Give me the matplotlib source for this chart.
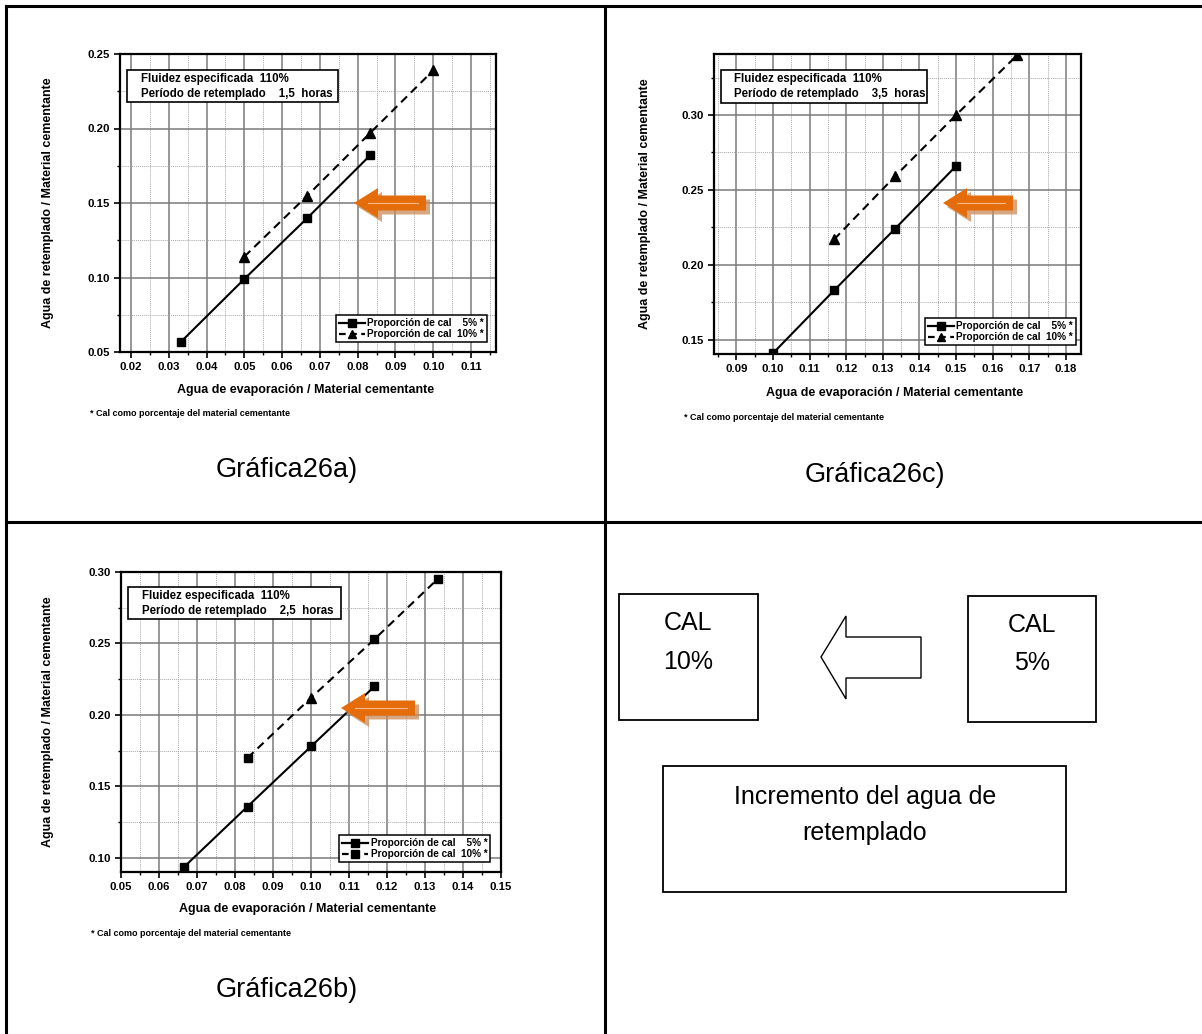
import matplotlib
matplotlib.use("Agg")
import matplotlib.pyplot as plt
from matplotlib.lines import Line2D
from matplotlib.patches import Polygon, Rectangle
from matplotlib.ticker import MultipleLocator, FormatStrFormatter

# Gráfica 26a - periodo de retemplado 1,5 horas
evap_a_5 = [0.0333, 0.0500, 0.0667, 0.0833]
retemp_a_5 = [0.057, 0.099, 0.140, 0.182]
evap_a_10 = [0.0500, 0.0667, 0.0833, 0.1000]
retemp_a_10 = [0.114, 0.155, 0.197, 0.239]
markers_a_10 = ["^", "^", "^", "^"]

# Gráfica 26c - periodo de retemplado 3,5 horas
evap_c_5 = [0.1000, 0.1167, 0.1333, 0.1500]
retemp_c_5 = [0.141, 0.183, 0.224, 0.266]
evap_c_10 = [0.1167, 0.1333, 0.1500, 0.1667]
retemp_c_10 = [0.217, 0.259, 0.300, 0.340]
markers_c_10 = ["^", "^", "^", "^"]

# Gráfica 26b - periodo de retemplado 2,5 horas
evap_b_5 = [0.0667, 0.0833, 0.1000, 0.1167]
retemp_b_5 = [0.094, 0.136, 0.178, 0.220]
evap_b_10 = [0.0833, 0.1000, 0.1167, 0.1333]
retemp_b_10 = [0.170, 0.212, 0.253, 0.295]
markers_b_10 = ["s", "^", "s", "s"]

label_5 = "Proporción de cal    5% *"
label_10 = "Proporción de cal  10% *"

W, H = 1202, 1034
plt.rcParams["font.family"] = ["Liberation Sans", "DejaVu Sans"]

fig = plt.figure(figsize=(W / 100, H / 100), dpi=100)

marker_sizes = {"s": 6, "^": 6.5}


def fx(x):
    return x / W


def fy(y):
    return 1 - y / H


def rect(left, top, right, bottom):
    return [fx(left), fy(bottom), (right - left) / W, (bottom - top) / H]


def fig_line(xs, ys, lw=2.2):
    fig.add_artist(Line2D([fx(x) for x in xs], [fy(y) for y in ys],
                          transform=fig.transFigure, color="black", lw=lw))


def fig_box(left, top, right, bottom, lw=1.0):
    fig.add_artist(Rectangle((fx(left), fy(bottom)), (right - left) / W,
                             (bottom - top) / H, transform=fig.transFigure,
                             facecolor="white", edgecolor="black", lw=lw))


def orange_arrow(tip_x, tip_y, length, head_len=24, shaft=7.5, head=15):
    pts = [(tip_x, tip_y), (tip_x + head_len, tip_y - head),
           (tip_x + head_len, tip_y - shaft), (tip_x + length, tip_y - shaft),
           (tip_x + length, tip_y + shaft), (tip_x + head_len, tip_y + shaft),
           (tip_x + head_len, tip_y + head)]
    shadow = [(fx(x + 4), fy(y + 4)) for x, y in pts]
    fig.add_artist(Polygon(shadow, closed=True, transform=fig.transFigure,
                           facecolor="#c98a55", edgecolor="none", alpha=0.75))
    fig.add_artist(Polygon([(fx(x), fy(y)) for x, y in pts], closed=True,
                           transform=fig.transFigure, facecolor="#e46c0a",
                           edgecolor="none"))
    fig.add_artist(Line2D([fx(tip_x + 14), fx(tip_x + length - 8)],
                          [fy(tip_y), fy(tip_y)], transform=fig.transFigure,
                          color="#f7b98a", lw=0.8))


def draw_panel(box, xlim, ylim, xmajor, ymajor, x5, y5, x10, y10, m10,
               info_box, info_x, info_lines, legend_at, ylab_xy,
               xlab_xy, note_xy, caption, caption_xy, legend_marker_10):
    ax = fig.add_axes(rect(*box))
    ax.set_xlim(*xlim)
    ax.set_ylim(*ylim)
    ax.xaxis.set_major_locator(MultipleLocator(xmajor))
    ax.xaxis.set_minor_locator(MultipleLocator(xmajor / 2))
    ax.yaxis.set_major_locator(MultipleLocator(ymajor))
    ax.yaxis.set_minor_locator(MultipleLocator(ymajor / 2))
    ax.xaxis.set_major_formatter(FormatStrFormatter("%.2f"))
    ax.yaxis.set_major_formatter(FormatStrFormatter("%.2f"))
    ax.grid(which="major", color="#7a7a7a", lw=1.1)
    ax.grid(which="minor", color="#a8a8a8", lw=0.7, ls=(0, (1, 1)))
    ax.set_axisbelow(True)
    for s in ax.spines.values():
        s.set_linewidth(1.6)
    ax.tick_params(which="major", direction="out", length=4, width=1.2,
                   labelsize=8.2, pad=3)
    ax.tick_params(which="minor", direction="out", length=2.5, width=1.0)
    for lab in ax.get_xticklabels() + ax.get_yticklabels():
        lab.set_fontweight("bold")

    ax.plot(x5, y5, color="black", lw=1.5, marker="s", markersize=6)
    ax.plot(x10, y10, color="black", lw=1.5, dashes=(4, 2.6))
    for x, y, m in zip(x10, y10, m10):
        ax.plot([x], [y], color="black", marker=m,
                markersize=marker_sizes[m], ls="none")

    handles = [
        Line2D([], [], color="black", lw=1.6, marker="s", markersize=5.5),
        Line2D([], [], color="black", lw=1.6, dashes=(3, 2),
               marker=legend_marker_10, markersize=5.5),
    ]
    leg = ax.legend(handles, [label_5, label_10], loc="upper left",
                    bbox_to_anchor=(fx(legend_at[0]), fy(legend_at[1])),
                    bbox_transform=fig.transFigure, fancybox=False,
                    framealpha=1, edgecolor="black", borderpad=0.3,
                    handlelength=2.6, handletextpad=0.25, labelspacing=0.12,
                    borderaxespad=0, prop={"size": 7.2, "weight": "bold"})
    leg.get_frame().set_linewidth(1.1)

    fig_box(*info_box, lw=1.2)
    for txt, ly in zip(info_lines, [info_box[1] + 9, info_box[1] + 24]):
        fig.text(fx(info_x), fy(ly), txt, fontsize=8.3, fontweight="bold",
                 ha="left", va="center")

    fig.text(fx(ylab_xy[0]), fy(ylab_xy[1]),
             "Agua de retemplado / Material cementante", rotation=90,
             fontsize=9, fontweight="bold", ha="center", va="center")
    fig.text(fx(xlab_xy[0]), fy(xlab_xy[1]),
             "Agua de evaporación / Material cementante",
             fontsize=9, fontweight="bold", ha="center", va="center")
    fig.text(fx(note_xy[0]), fy(note_xy[1]),
             "* Cal como porcentaje del material cementante",
             fontsize=6.5, fontweight="bold", ha="left", va="center")
    fig.text(fx(caption_xy[0]), fy(caption_xy[1]), caption, fontsize=19.5,
             ha="center", va="center")
    return ax


draw_panel((120, 54, 496, 352), (0.0171, 0.1166), (0.05, 0.25), 0.01, 0.05,
           evap_a_5, retemp_a_5, evap_a_10, retemp_a_10, markers_a_10,
           (127, 70, 338, 102), 141,
           ["Fluidez especificada  110%",
            "Período de retemplado    1,5  horas"],
           (336, 315), (48, 203), (306, 390), (90, 413),
           "Gráfica26a)", (287, 470), "^")

draw_panel((714, 54, 1081, 354), (0.0839, 0.1841), (0.1405, 0.3407), 0.01, 0.05,
           evap_c_5, retemp_c_5, evap_c_10, retemp_c_10, markers_c_10,
           (721, 70, 927, 103), 734,
           ["Fluidez especificada  110%",
            "Período de retemplado    3,5  horas"],
           (925, 318), (645, 204), (895, 393), (684, 417),
           "Gráfica26c)", (875, 475), "^")

draw_panel((121, 572, 501, 872), (0.05, 0.15), (0.0902, 0.30), 0.01, 0.05,
           evap_b_5, retemp_b_5, evap_b_10, retemp_b_10, markers_b_10,
           (128, 587, 341, 619), 142,
           ["Fluidez especificada  110%",
            "Período de retemplado    2,5  horas"],
           (339, 835), (48, 722), (308, 909), (91, 933),
           "Gráfica26b)", (287, 990), "s")

# Orange arrows pointing to the increase between series
orange_arrow(354, 203, 72)
orange_arrow(943, 203, 70)
orange_arrow(341, 708, 74)

# Table frame around the four cells
fig_line([6, W], [6, 6], lw=2.2)
fig_line([6, 6], [6, H], lw=2.2)
fig_line([605, 605], [6, H], lw=2.2)
fig_line([6, W], [522, 522], lw=2.2)

# Bottom-right cell: schematic of the lime effect
fig_box(619, 594, 758, 720, lw=1.3)
fig.text(fx(688), fy(623), "CAL", fontsize=18, ha="center", va="center")
fig.text(fx(688), fy(662), "10%", fontsize=18, ha="center", va="center")
fig_box(968, 596, 1096, 722, lw=1.3)
fig.text(fx(1032), fy(625), "CAL", fontsize=18, ha="center", va="center")
fig.text(fx(1032), fy(663), "5%", fontsize=18, ha="center", va="center")

hollow = [(821, 657), (846, 616), (846, 637), (921, 637), (921, 678),
          (846, 678), (846, 699)]
fig.add_artist(Polygon([(fx(x), fy(y)) for x, y in hollow], closed=True,
                       transform=fig.transFigure, facecolor="white",
                       edgecolor="black", lw=1.0))

fig_box(663, 766, 1066, 892, lw=1.3)
fig.text(fx(865), fy(797), "Incremento del agua de", fontsize=18,
         ha="center", va="center")
fig.text(fx(865), fy(833), "retemplado", fontsize=18, ha="center",
         va="center")

fig.savefig("out.png", dpi=100)
